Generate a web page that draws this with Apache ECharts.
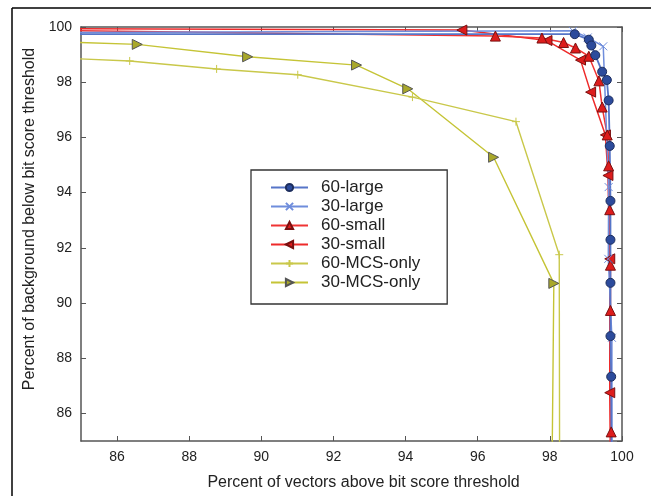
<!DOCTYPE html>
<html>
<head>
<meta charset="utf-8">
<script src="https://cdn.jsdelivr.net/npm/echarts@6/dist/echarts.min.js"></script>
<style>
  html, body { margin: 0; padding: 0; background: #fff; }
  #chart { width: 651px; height: 496px; }
</style>
</head>
<body>
<div id="chart"></div>
<script>
// values: [x, y] pairs, x = % vectors above, y = % background below
var large60 = [[84, 99.74], [98.69, 99.74], [99.08, 99.54], [99.15, 99.33], [99.26, 98.98],
  [99.45, 98.38], [99.58, 98.08], [99.63, 97.34], [99.66, 95.69], [99.68, 93.70],
  [99.68, 92.29], [99.68, 90.73], [99.68, 88.80], [99.70, 87.33], [99.71, 84]];
var large30 = [[84, 99.80], [98.64, 99.86], [99.05, 99.62], [99.48, 99.30], [99.63, 94.2],
  [99.62, 91.6], [99.72, 88.74], [99.72, 84]];
var small60 = [[84, 99.88], [96.49, 99.67], [97.78, 99.60], [98.38, 99.44], [98.71, 99.24],
  [99.08, 98.94], [99.36, 98.05], [99.45, 97.10], [99.59, 96.09], [99.63, 94.97],
  [99.66, 93.38], [99.68, 91.37], [99.68, 89.73], [99.70, 85.33], [99.70, 84]];
var small30 = [[84, 99.94], [95.56, 99.89], [97.92, 99.51], [98.85, 98.80], [99.13, 97.64],
  [99.54, 96.09], [99.61, 94.62], [99.66, 91.6], [99.66, 86.75], [99.68, 84]];
var mcs60 = [[84, 98.9], [86.35, 98.77], [88.76, 98.48], [91.01, 98.27], [94.19, 97.46],
  [97.06, 96.57], [98.26, 91.75], [98.27, 84]];
var mcs30 = [[84, 99.48], [86.56, 99.37], [89.62, 98.92], [92.64, 98.62], [94.06, 97.76],
  [96.44, 95.28], [98.11, 90.71], [98.06, 84]];

var FONT = 'Liberation Sans, Arial, sans-serif';
var PLUS = 'path://M0,-5L0,5M-5,0L5,0';
var CROSS = 'path://M-4,-4L4,4M-4,4L4,-4';

function axisBase(pos, show) {
  return {
    type: 'value',
    position: pos,
    min: 85,
    max: 100,
    splitNumber: 7,
    minInterval: 2,
    maxInterval: 2,
    axisLine: { show: true, lineStyle: { color: '#555', width: 1.5 } },
    axisTick: { show: true, inside: true, length: 5, lineStyle: { color: '#555' } },
    axisLabel: { show: show, showMinLabel: false, color: '#222', fontSize: 14, fontFamily: FONT, margin: 9 },
    splitLine: { show: false }
  };
}

var xBottom = axisBase('bottom', true);
xBottom.name = 'Percent of vectors above bit score threshold';
xBottom.nameLocation = 'middle';
xBottom.nameGap = 34;
xBottom.nameTextStyle = { color: '#222', fontSize: 16, fontFamily: FONT, padding: [0, 0, 0, 24] };
var yLeft = axisBase('left', true);
yLeft.name = 'Percent of background below bit score threshold';
yLeft.nameLocation = 'middle';
yLeft.nameGap = 43;
yLeft.nameTextStyle = { color: '#222', fontSize: 16, fontFamily: FONT, padding: [0, 0, 0, 30] };

function lineSeries(name, data, symbol, size, rotate, lineColor, fill, border, width) {
  return {
    name: name,
    type: 'line',
    data: data,
    symbol: symbol,
    symbolSize: size,
    symbolRotate: rotate,
    showAllSymbol: true,
    clip: true,
    animation: false,
    lineStyle: { color: lineColor, width: width },
    itemStyle: { color: fill, borderColor: border, borderWidth: 1 },
    z: 3
  };
}

var option = {
  backgroundColor: '#fff',
  textStyle: { fontFamily: FONT },
  grid: { left: 81, right: 29, top: 27, bottom: 50, containLabel: false },
  graphic: [
    { type: 'line', shape: { x1: 12, y1: 8, x2: 651, y2: 8 }, style: { stroke: '#000', lineWidth: 1.5 } },
    { type: 'line', shape: { x1: 12, y1: 8, x2: 12, y2: 496 }, style: { stroke: '#000', lineWidth: 1.5 } }
  ],
  legend: {
    left: 251,
    top: 170,
    orient: 'vertical',
    itemWidth: 37,
    itemHeight: 9,
    itemGap: 2,
    padding: [9, 27, 13, 19],
    borderColor: '#333',
    borderWidth: 1.3,
    backgroundColor: '#fff',
    textStyle: { color: '#222', fontSize: 17, fontFamily: FONT, padding: [0, 0, 0, 8] },
    data: ['60-large', '30-large', '60-small', '30-small', '60-MCS-only', '30-MCS-only']
  },
  xAxis: [xBottom, axisBase('top', false)],
  yAxis: [yLeft, axisBase('right', false)],
  series: [
    lineSeries('30-MCS-only', mcs30, 'triangle', 10, -90, '#c5c436', '#a9a82a', '#555', 1.4),
    lineSeries('60-MCS-only', mcs60, PLUS, 8, 0, '#c9c84a', '#c9c84a', '#c9c84a', 1.4),
    lineSeries('30-small', small30, 'triangle', 10, 90, '#ee2a2a', '#dd1c1c', '#7a1010', 1.5),
    lineSeries('60-small', small60, 'triangle', 10, 0, '#f03434', '#dd1c1c', '#7a1010', 1.5),
    lineSeries('30-large', large30, CROSS, 8, 0, '#6f8ddc', '#6f8ddc', '#6f8ddc', 1.5),
    lineSeries('60-large', large60, 'circle', 9, 0, '#5675c8', '#2c4b9c', '#1d2e5e', 1.8)
  ]
};

var chart = echarts.init(document.getElementById('chart'), null, { renderer: 'canvas' });
chart.setOption(option);
</script>
</body>
</html>
